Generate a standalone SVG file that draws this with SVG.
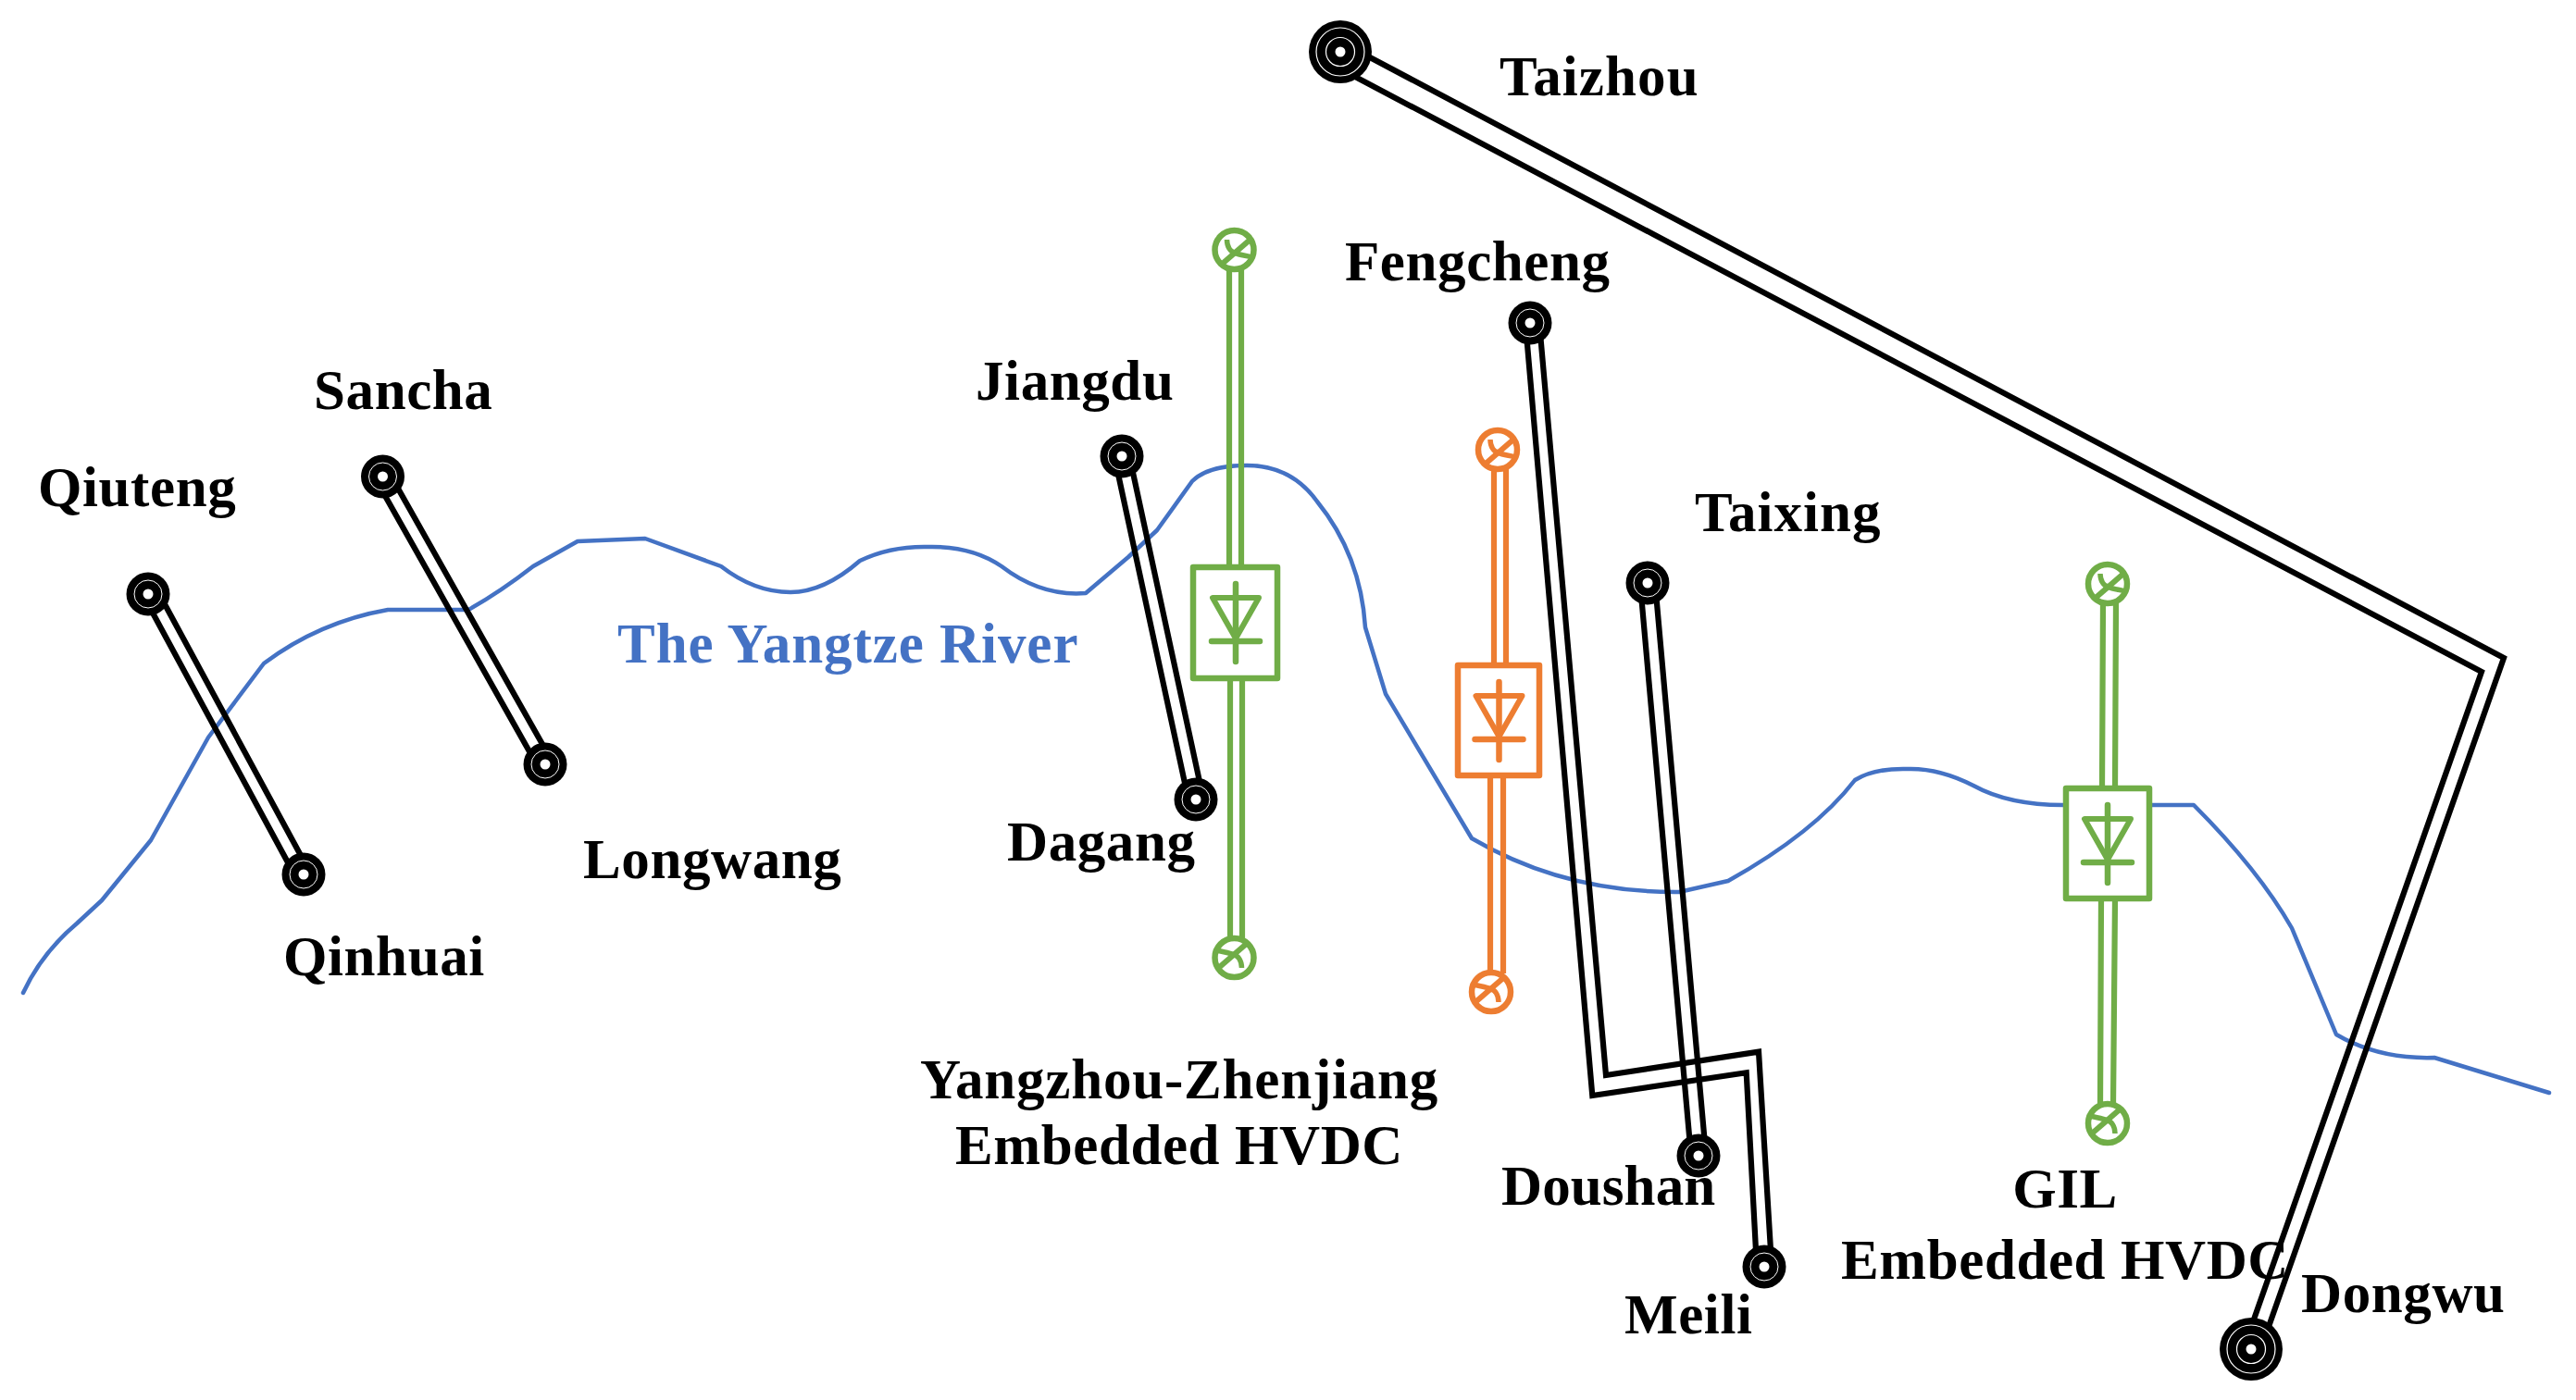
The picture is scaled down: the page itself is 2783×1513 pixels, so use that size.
<svg xmlns="http://www.w3.org/2000/svg" xmlns:xlink="http://www.w3.org/1999/xlink" width="2783" height="1513" viewBox="0 0 2783 1513">
<style>
text{font-family:"Liberation Serif","Times New Roman",serif;font-weight:bold;font-size:61px;letter-spacing:.6px;fill:#000}
.river-label{fill:#4472C4;letter-spacing:.95px}
.mid{text-anchor:middle}
.wire{fill:none;stroke-width:6.2;stroke-linejoin:miter;stroke-miterlimit:10}
.k{stroke:#000}
.g{stroke:#70AD47}
.o{stroke:#ED7D31}
.river{fill:none;stroke:#4472C4;stroke-width:4.5;stroke-linejoin:round;stroke-linecap:round}
.box{fill:#fff;stroke-width:6.5;stroke-linejoin:round}
</style>
<defs>
<g id="small"><circle r="23.5" fill="#000"/><circle r="15" fill="none" stroke="#fff" stroke-width="1"/><circle r="5.5" fill="#fff"/></g>
<g id="big"><circle r="34" fill="#000"/><circle r="26" fill="none" stroke="#fff" stroke-width="1.2"/><circle r="15.5" fill="none" stroke="#fff" stroke-width="1.2"/><circle r="5.5" fill="#fff"/></g>
<g id="conv" fill="#fff"><circle r="21" stroke-width="6.5"/><path d="M-13,15L17,-11" stroke-width="6" fill="none"/><path d="M-8,-11C-8,-3 -4,2 0,3C6,6 12,6 19,8" stroke-width="5.5" fill="none"/></g>
<g id="diode" fill="none"><path d="M-25,36H25L0,80Z" stroke-width="6" stroke-linejoin="round"/><path d="M-26,83H26M0,21V105" stroke-width="6.5" stroke-linecap="round"/></g>
</defs>
<path class="river" d="M25,1073Q45,1030 83,998L110,973L163,908L225,797L285,717Q345,672 419,659L506,659Q540,640 576,612L624,585L697,582L779,612Q815,640 854,640Q890,640 929,606Q962,590 1003,591Q1050,590 1082,612Q1125,645 1173,641L1219,602L1250,573L1288,520Q1305,503 1347,503Q1395,503 1423,542Q1470,600 1475,678L1497,750L1590,906Q1690,965 1814,964L1867,952Q1960,900 2004,843Q2025,830 2061,831Q2095,830 2132,849Q2170,870 2229,870L2370,870Q2440,940 2476,1003L2524,1118Q2570,1145 2630,1143L2754,1181"/>
<g id="connectors">
<path class="wire k" d="M156,645.8L320,948.8M170,638.2L334,941.2"/>
<path class="wire k" d="M406.5,518.9L582,829.9M420.5,511.1L596,822.1"/>
<path class="wire k" d="M1204.2,494.7L1284.2,865.7M1219.8,491.3L1299.8,862.3"/>
<path class="wire k" d="M1772,630.7L1827,1249.7M1788,629.3L1843,1248.3"/>
<path class="wire k" d="M1648,349L1720.3,1184L1886.7,1159.3L1898,1370M1663,349L1735,1162L1900,1136.7L1914,1368"/>
<path class="wire k" d="M1463,53L2705,711L2453,1428L2447,1445M1450,75.5L2681,726L2436,1423L2430,1440"/>
<path class="wire g" d="M1328,290V613M1341,290V613M1329,733V1015M1342,733V1015"/>
<path class="wire o" d="M1614,505V719M1627,505V719M1610,838V1052M1624,838V1052"/>
<path class="wire g" d="M2272,650L2271,852M2286,650L2285,852M2270,971L2269,1194M2285,971L2283,1194"/>
</g>
<g id="node-qiuteng"><use href="#small" x="160" y="642"/><text x="41" y="547">Qiuteng</text></g>
<g id="node-qinhuai"><use href="#small" x="328" y="945"/><text x="306" y="1054">Qinhuai</text></g>
<g id="node-sancha"><use href="#small" x="413.5" y="515"/><text x="339" y="442">Sancha</text></g>
<g id="node-longwang"><use href="#small" x="589" y="826"/><text x="630" y="949">Longwang</text></g>
<g id="node-jiangdu"><use href="#small" x="1212" y="493"/><text x="1054" y="432">Jiangdu</text></g>
<g id="node-dagang"><use href="#small" x="1292" y="864"/><text x="1088" y="930">Dagang</text></g>
<g id="node-fengcheng"><use href="#small" x="1653" y="349"/><text x="1453" y="303">Fengcheng</text></g>
<g id="node-taixing"><use href="#small" x="1780" y="630"/><text x="1831" y="574" style="letter-spacing:1px">Taixing</text></g>
<g id="node-doushan"><use href="#small" x="1835" y="1249"/><text x="1622" y="1302" style="letter-spacing:.1px">Doushan</text></g>
<g id="node-meili"><use href="#small" x="1906" y="1369"/><text x="1755" y="1441">Meili</text></g>
<g id="node-taizhou"><use href="#big" x="1448" y="56"/><text x="1620" y="103" style="letter-spacing:1.1px">Taizhou</text></g>
<g id="node-dongwu"><use href="#big" x="2432" y="1458"/><text x="2486" y="1418">Dongwu</text></g>
<g id="hvdc-yangzhou">
<use href="#conv" class="g" x="1333.5" y="270"/>
<use href="#conv" class="g" transform="translate(1333.5,1035) rotate(180)"/>
<rect class="box g" x="1289" y="613" width="91" height="120"/>
<use href="#diode" class="g" x="1335" y="610"/>
<text x="1274" y="1187" class="mid" style="letter-spacing:.8px">Yangzhou-Zhenjiang</text>
<text x="1274" y="1258" class="mid">Embedded HVDC</text>
</g>
<g id="hvdc-orange">
<use href="#conv" class="o" x="1618" y="486"/>
<use href="#conv" class="o" transform="translate(1611,1072) rotate(180)"/>
<rect class="box o" x="1575" y="719" width="88" height="119"/>
<use href="#diode" class="o" x="1619.5" y="716"/>
</g>
<g id="hvdc-gil">
<use href="#conv" class="g" x="2277" y="631"/>
<use href="#conv" class="g" transform="translate(2277,1214) rotate(180)"/>
<rect class="box g" x="2232" y="852" width="90" height="119"/>
<use href="#diode" class="g" x="2277" y="849"/>
<text x="2231" y="1305" class="mid">GIL</text>
<text x="2231" y="1382" class="mid">Embedded HVDC</text>
</g>
<text class="river-label" x="667" y="716">The Yangtze River</text>
</svg>
